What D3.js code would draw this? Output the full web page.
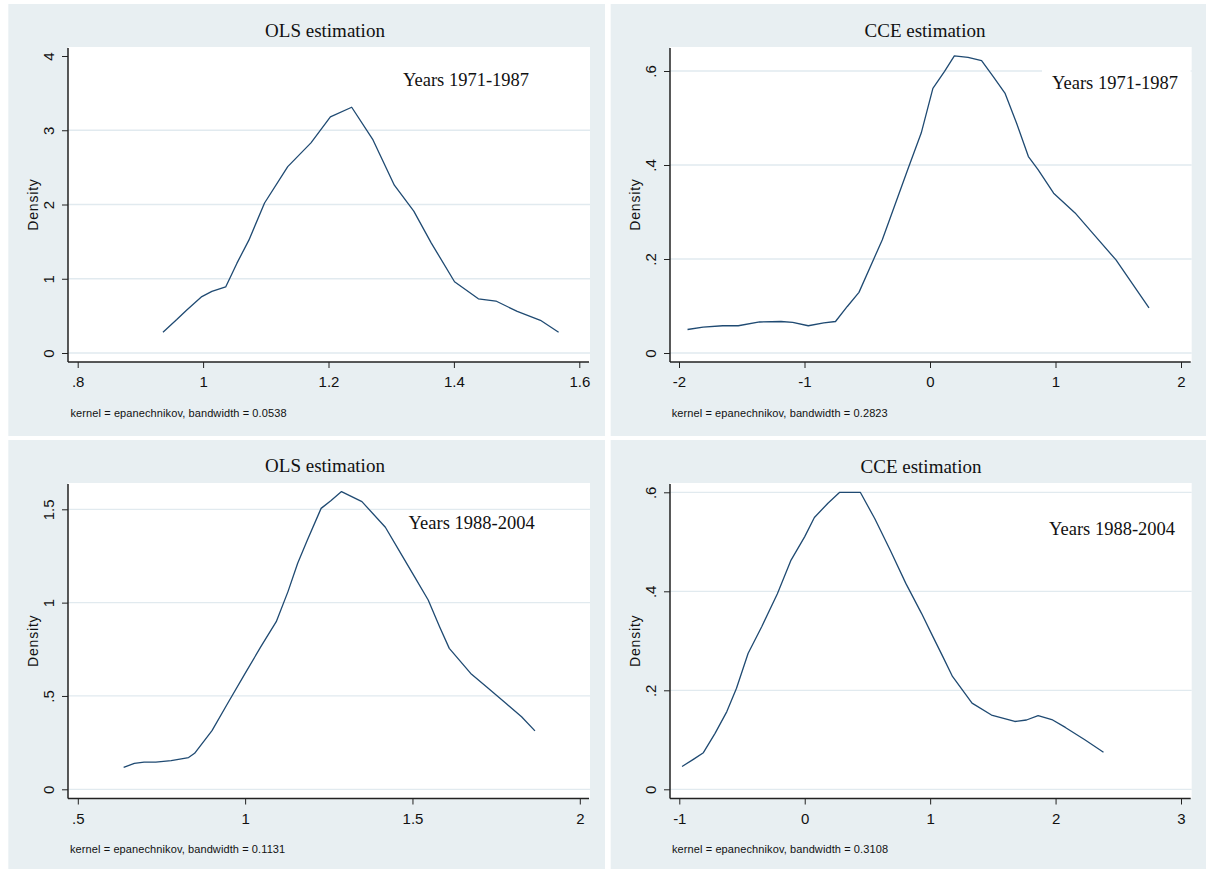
<!DOCTYPE html>
<html>
<head>
<meta charset="utf-8">
<script src="https://cdn.jsdelivr.net/npm/d3@7"></script>
<style>
  body { margin: 0; background: #fff; }
  svg { display: block; }
</style>
</head>
<body>
<div id="chart"></div>
<script>
// Top-left: OLS, 1971-1987
const olsEarlyX = [0.936, 0.958, 0.974, 0.998, 1.014, 1.036, 1.054, 1.073, 1.098, 1.135, 1.172, 1.203, 1.237, 1.271, 1.305, 1.336, 1.364, 1.401, 1.439, 1.467, 1.501, 1.538, 1.567];
const olsEarlyY = [0.28, 0.45, 0.58, 0.76, 0.83, 0.89, 1.21, 1.52, 2.02, 2.51, 2.83, 3.18, 3.31, 2.87, 2.26, 1.91, 1.48, 0.96, 0.73, 0.70, 0.56, 0.44, 0.28];

// Top-right: CCE, 1971-1987
const cceEarlyX = [-1.932, -1.808, -1.652, -1.528, -1.358, -1.187, -1.094, -0.970, -0.846, -0.753, -0.659, -0.566, -0.380, -0.178, -0.070, 0.023, 0.116, 0.194, 0.303, 0.411, 0.504, 0.597, 0.690, 0.784, 0.861, 0.985, 1.156, 1.296, 1.482, 1.745];
const cceEarlyY = [0.050, 0.055, 0.058, 0.058, 0.066, 0.067, 0.065, 0.058, 0.064, 0.067, 0.099, 0.129, 0.241, 0.390, 0.468, 0.563, 0.599, 0.632, 0.629, 0.622, 0.588, 0.553, 0.489, 0.418, 0.390, 0.340, 0.298, 0.255, 0.198, 0.096];

// Bottom-left: OLS, 1988-2004
const olsLateX = [0.637, 0.669, 0.698, 0.733, 0.779, 0.831, 0.849, 0.901, 0.948, 1.000, 1.047, 1.093, 1.128, 1.157, 1.186, 1.227, 1.256, 1.288, 1.349, 1.419, 1.465, 1.506, 1.547, 1.581, 1.610, 1.674, 1.721, 1.779, 1.826, 1.866];
const olsLateY = [0.118, 0.139, 0.146, 0.146, 0.154, 0.170, 0.193, 0.314, 0.461, 0.621, 0.764, 0.898, 1.059, 1.211, 1.336, 1.505, 1.546, 1.595, 1.541, 1.404, 1.264, 1.139, 1.014, 0.871, 0.755, 0.621, 0.550, 0.461, 0.389, 0.313];

// Bottom-right: CCE, 1988-2004
const cceLateX = [-0.978, -0.885, -0.808, -0.715, -0.621, -0.544, -0.451, -0.342, -0.218, -0.109, -0.001, 0.077, 0.185, 0.279, 0.356, 0.443, 0.558, 0.682, 0.806, 0.930, 1.023, 1.101, 1.178, 1.334, 1.489, 1.675, 1.768, 1.861, 1.970, 2.078, 2.233, 2.382];
const cceLateY = [0.046, 0.061, 0.074, 0.113, 0.157, 0.204, 0.275, 0.329, 0.395, 0.463, 0.510, 0.549, 0.578, 0.600, 0.600, 0.600, 0.547, 0.483, 0.416, 0.356, 0.308, 0.268, 0.228, 0.174, 0.150, 0.137, 0.140, 0.149, 0.141, 0.125, 0.100, 0.075];

// axis ticks
const olsEarlyXTicks = [0.8, 1, 1.2, 1.4, 1.6];
const olsEarlyYTicks = [0, 1, 2, 3, 4];
const olsEarlyGrid = [0, 1, 2, 3];
const cceEarlyXTicks = [-2, -1, 0, 1, 2];
const cceEarlyYTicks = [0, 0.2, 0.4, 0.6];
const olsLateXTicks = [0.5, 1, 1.5, 2];
const olsLateYTicks = [0, 0.5, 1, 1.5];
const cceLateXTicks = [-1, 0, 1, 2, 3];
const cceLateYTicks = [0, 0.2, 0.4, 0.6];

const titles = ['OLS estimation', 'CCE estimation', 'OLS estimation', 'CCE estimation'];
const periods = ['Years 1971-1987', 'Years 1971-1987', 'Years 1988-2004', 'Years 1988-2004'];
const bandwidths = ['0.0538', '0.2823', '0.1131', '0.3108'];

const W = 1220, H = 869;
const bgColor = '#e8eff2';
const lineColor = '#1f4a72';
const sans = '"Liberation Sans", Arial, sans-serif';
const serif = '"Liberation Serif", "Times New Roman", serif';

// layout of each panel (pixel positions)
const panels = [
    { x: olsEarlyX, y: olsEarlyY, xt: olsEarlyXTicks, yt: olsEarlyYTicks, grid: olsEarlyGrid,
      bg: [8.3, 4, 596.7, 432], plot: [68, 47, 590, 362], xr: [77.7, 579.3], yr: [353, 56],
      title: [325, 30], period: [403, 80], note: 70.5, boxed: false },
    { x: cceEarlyX, y: cceEarlyY, xt: cceEarlyXTicks, yt: cceEarlyYTicks, grid: cceEarlyYTicks,
      bg: [610.7, 4, 595.3, 432], plot: [670, 47, 1191.7, 362], xr: [679, 1181], yr: [353, 71],
      title: [925, 30], period: [1052, 83], note: 671.7, boxed: true },
    { x: olsLateX, y: olsLateY, xt: olsLateXTicks, yt: olsLateYTicks, grid: olsLateYTicks,
      bg: [8.3, 440, 596.7, 432], plot: [68, 483, 590, 798.5], xr: [77.8, 579.8], yr: [789.3, 509.3],
      title: [325, 465.5], period: [408.6, 522.7], note: 70, boxed: false },
    { x: cceLateX, y: cceLateY, xt: cceLateXTicks, yt: cceLateYTicks, grid: cceLateYTicks,
      bg: [610.7, 440, 595.3, 432], plot: [670, 483, 1191.7, 798.5], xr: [679.3, 1181], yr: [789.3, 492.3],
      title: [921, 466], period: [1049, 529.3], note: 672, boxed: false }
];

const fmt = d => String(d).replace(/^0\./, '.').replace(/^-0\./, '-.');

const svg = d3.select('#chart')
    .append('svg')
    .attr('width', W)
    .attr('height', H);

svg.append('rect').attr('width', W).attr('height', H).attr('fill', '#fff');

panels.forEach((p, i) => {
    const g = svg.append('g');

    // graph region background
    g.append('rect')
        .attr('x', p.bg[0]).attr('y', p.bg[1])
        .attr('width', p.bg[2]).attr('height', p.bg[3])
        .attr('fill', bgColor);

    // plot region
    const [px0, py0, px1, py1] = p.plot;
    g.append('rect')
        .attr('x', px0).attr('y', py0)
        .attr('width', px1 - px0).attr('height', py1 - py0)
        .attr('fill', '#fff');

    const xScale = d3.scaleLinear()
        .domain([p.xt[0], p.xt[p.xt.length - 1]])
        .range(p.xr);
    const yScale = d3.scaleLinear()
        .domain([p.yt[0], p.yt[p.yt.length - 1]])
        .range(p.yr);

    // gridlines
    g.selectAll('.grid')
        .data(p.grid)
        .enter()
        .append('line')
        .attr('x1', px0).attr('x2', px1)
        .attr('y1', d => yScale(d)).attr('y2', d => yScale(d))
        .attr('stroke', '#e1eaef')
        .attr('stroke-width', 1.3);

    // period label
    const period = g.append('text')
        .attr('x', p.period[0]).attr('y', p.period[1])
        .attr('dominant-baseline', 'central')
        .attr('font-family', serif)
        .attr('font-size', 18.5)
        .attr('fill', '#111')
        .text(periods[i]);
    if (p.boxed) {
        const b = period.node().getBBox();
        g.insert('rect', () => period.node())
            .attr('x', b.x - 10).attr('y', b.y - 4)
            .attr('width', px1 - (b.x - 10) - 1).attr('height', b.height + 8)
            .attr('fill', '#fff');
    }

    // density curve
    const line = d3.line()
        .x(d => xScale(d[0]))
        .y(d => yScale(d[1]));
    g.append('path')
        .datum(d3.zip(p.x, p.y))
        .attr('d', line)
        .attr('fill', 'none')
        .attr('stroke', lineColor)
        .attr('stroke-width', 1.3)
        .attr('stroke-linejoin', 'round');

    // axes
    const xAxis = d3.axisBottom(xScale)
        .tickValues(p.xt)
        .tickFormat(fmt)
        .tickSize(6)
        .tickSizeOuter(0);
    const xg = g.append('g')
        .attr('transform', `translate(0, ${py1})`)
        .call(xAxis);
    xg.select('.domain').remove();
    xg.selectAll('text')
        .attr('y', 19.5)
        .attr('dy', null)
        .attr('dominant-baseline', 'central')
        .attr('font-family', sans)
        .attr('font-size', 15)
        .attr('fill', '#111');

    const yAxis = d3.axisLeft(yScale)
        .tickValues(p.yt)
        .tickFormat(fmt)
        .tickSize(6)
        .tickSizeOuter(0);
    const yg = g.append('g')
        .attr('transform', `translate(${px0}, 0)`)
        .call(yAxis);
    yg.select('.domain').remove();
    yg.selectAll('text')
        .attr('x', 0)
        .attr('dy', null)
        .attr('text-anchor', 'middle')
        .attr('dominant-baseline', 'central')
        .attr('transform', 'translate(-19.5, 0) rotate(-90)')
        .attr('font-family', sans)
        .attr('font-size', 15)
        .attr('fill', '#111');
    xg.selectAll('line').attr('stroke', '#222');
    yg.selectAll('line').attr('stroke', '#222');

    // axis lines
    g.append('line')
        .attr('x1', px0).attr('x2', px0)
        .attr('y1', py0 + 1).attr('y2', py1)
        .attr('stroke', '#222').attr('stroke-width', 1.5);
    g.append('line')
        .attr('x1', px0).attr('x2', px1 - 1)
        .attr('y1', py1).attr('y2', py1)
        .attr('stroke', '#222').attr('stroke-width', 1.5);

    // y title
    g.append('text')
        .attr('transform', `translate(${px0 - 35}, ${(py0 + py1) / 2}) rotate(-90)`)
        .attr('text-anchor', 'middle')
        .attr('dominant-baseline', 'central')
        .attr('font-family', sans)
        .attr('font-size', 14)
        .attr('letter-spacing', 0.8)
        .attr('fill', '#111')
        .text('Density');

    // panel title
    g.append('text')
        .attr('x', p.title[0]).attr('y', p.title[1])
        .attr('text-anchor', 'middle')
        .attr('dominant-baseline', 'central')
        .attr('font-family', serif)
        .attr('font-size', 19)
        .attr('fill', '#111')
        .text(titles[i]);

    // kernel note
    g.append('text')
        .attr('x', p.note).attr('y', py1 + 50.5)
        .attr('dominant-baseline', 'central')
        .attr('font-family', sans)
        .attr('font-size', 11)
        .attr('letter-spacing', 0.1)
        .attr('fill', '#111')
        .text(`kernel = epanechnikov, bandwidth = ${bandwidths[i]}`);
});
</script>
</body>
</html>
